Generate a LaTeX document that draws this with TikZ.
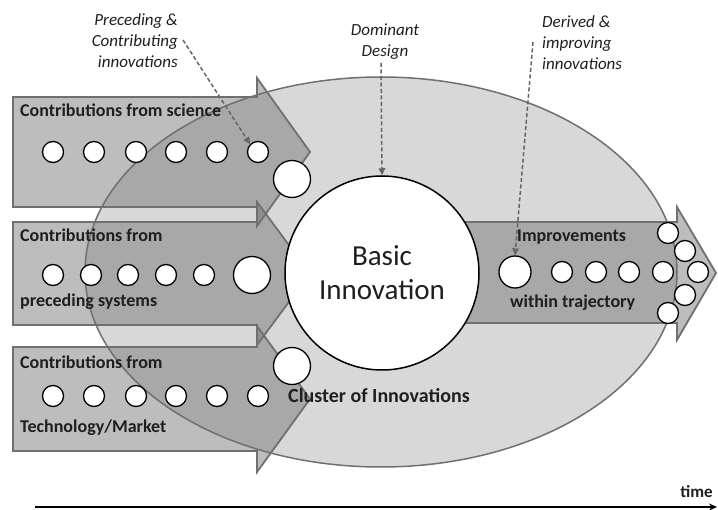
\documentclass[tikz,border=0pt]{standalone}
\usepackage{fontspec}
\setmainfont{Carlito}
\usetikzlibrary{arrows.meta}
\definecolor{ellfill}{HTML}{D8D8D8}
\definecolor{edgegray}{HTML}{707070}
\definecolor{dashgray}{HTML}{666666}
\begin{document}
\begin{tikzpicture}[x=1pt,y=-1pt,
  bigarrow/.style={fill=edgegray, fill opacity=0.46, draw=edgegray, line width=1.8pt, line join=miter},
  dot/.style={circle, draw=black, fill=white, line width=1.3pt, minimum size=21pt, inner sep=0pt},
  bigdot/.style={dot, minimum size=37pt},
  middot/.style={dot, minimum size=32pt},
  lbl/.style={font=\fontsize{18}{20}\selectfont\bfseries, inner sep=0pt, anchor=west, text=black!88},
  note/.style={font=\fontsize{17}{21}\selectfont\itshape, inner sep=0pt, text=black!88},
  dasharrow/.style={draw=dashgray, dash pattern=on 4pt off 2.5pt, line width=1.5pt, -{Triangle[length=7pt,width=6.5pt]}}]
\useasboundingbox (0,0) rectangle (718,510);
\fill[white] (0,0) rectangle (718,510);

% cluster ellipse
\draw[fill=ellfill, draw=edgegray, line width=1.5pt] (381,272) ellipse [x radius=296, y radius=195];

% left arrows
\draw[bigarrow] (13,97) -- (257,97) -- (257,78) -- (310,152) -- (257,226) -- (257,207) -- (13,207) -- cycle;
\draw[bigarrow] (13,222) -- (257,222) -- (257,202) -- (310,273.5) -- (257,345) -- (257,325) -- (13,325) -- cycle;
\draw[bigarrow] (13,347) -- (257,347) -- (257,326) -- (310,399) -- (257,472) -- (257,451) -- (13,451) -- cycle;

% right arrow
\draw[bigarrow] (420,222) -- (677,222) -- (677,207) -- (716,273) -- (677,340) -- (677,323) -- (420,323) -- cycle;

% basic innovation
\node[circle, draw=black, fill=white, line width=1.5pt, minimum size=194pt, inner sep=0pt, align=center,
      font=\fontsize{29}{34}\selectfont, text=black!88] (basic) at (382,273) {Basic\\Innovation};

% dots of arrow 1
\foreach \x [count=\i] in {53,94,136,176,217,258} \node[dot] (a\i) at (\x,152) {};
\node[bigdot] (ab) at (292,179) {};
% dots of arrow 2
\foreach \x [count=\i] in {53,91,128,166,204} \node[dot] (b\i) at (\x,275) {};
\node[bigdot] (bb) at (252,275) {};
% dots of arrow 3
\foreach \x [count=\i] in {53,94,136,176,217,258} \node[dot] (c\i) at (\x,396) {};
\node[bigdot] (cb) at (292,366) {};
% dots of right arrow
\node[middot] (r0) at (515,272) {};
\foreach \x [count=\i] in {562,596,629,663,698} \node[dot] (r\i) at (\x,272) {};
\node[dot] (h1) at (668,233) {};
\node[dot] (h2) at (685,251) {};
\node[dot] (h3) at (685,295) {};
\node[dot] (h4) at (668,313) {};

% labels
\node[lbl] (l1) at (20,110) {Contributions from science};
\node[lbl] (l2) at (20,235) {Contributions from};
\node[lbl] (l3) at (20,302) {preceding systems};
\node[lbl] (l4) at (20,362) {Contributions from};
\node[lbl] (l5) at (20,428) {Technology/Market};
\node[lbl, font=\fontsize{20}{22}\selectfont\bfseries] (l6) at (288,396) {Cluster of Innovations};
\node[lbl] (l7) at (517,237) {Improvements};
\node[lbl] (l8) at (510,303) {within trajectory};

% notes
\node[note, align=right, anchor=east] (prec) at (178,41) {Preceding \&\\Contributing\\innovations};
\node[note, align=center] (dom) at (385,42) {Dominant\\Design};
\node[note, align=left, anchor=west] (der) at (542,43) {Derived \&\\improving\\innovations};

\coordinate (precstart) at (183,40);
\coordinate (domstart) at (381,63);
\coordinate (derstart) at (533,42);
\draw[dasharrow] (precstart) -- (a6.north west);
\draw[dasharrow] (domstart) -- (basic.north);
\draw[dasharrow] (derstart) -- (r0.north);

% time axis
\coordinate (t0) at (35,507);
\coordinate (t1) at (717,507);
\draw[line width=1.8pt, -{Stealth[length=8pt,width=7pt]}] (t0) -- (t1);
\node[font=\fontsize{17}{19}\selectfont\bfseries, anchor=east, inner sep=0pt, text=black!88] (time) at (713,492) {time};
\end{tikzpicture}
\end{document}
